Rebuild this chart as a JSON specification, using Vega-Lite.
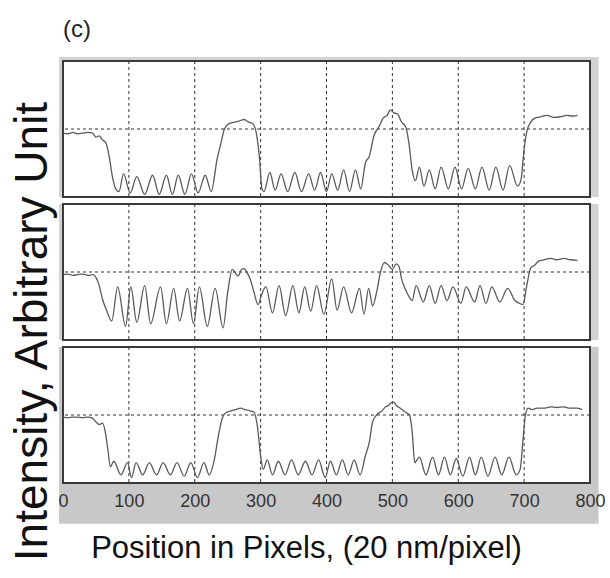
{
  "$schema": "https://vega.github.io/schema/vega-lite/v6.json",
  "background": "white",
  "padding": {"left": 8, "top": 17, "right": 5, "bottom": 5},
  "title": {"text": "(c)", "anchor": "start", "frame": "group", "fontSize": 24, "fontWeight": "normal", "font": "Liberation Sans", "color": "#222", "offset": 15},
  "config": {"view": {"stroke": null}, "font": "Liberation Sans"},
  "spacing": 7,
  "bounds": "flush",
  "datasets": {
    "p1": [
      {"x":0,"y":47},{"x":8,"y":46.5},{"x":15,"y":47.5},{"x":22,"y":46.5},{"x":30,"y":47},{"x":38,"y":47.5},{"x":45,"y":47},{"x":50,"y":44},{"x":55,"y":45},{"x":60,"y":42},{"x":65,"y":40},{"x":70,"y":30},{"x":75,"y":15},{"x":80,"y":6},{"x":85,"y":4},
      {"x":92,"y":17},{"x":102,"y":3},{"x":112,"y":15},{"x":124,"y":2},{"x":136,"y":16},{"x":146,"y":2},{"x":157,"y":16},{"x":166,"y":2},{"x":175,"y":16},{"x":185,"y":2},{"x":195,"y":17},{"x":205,"y":3},{"x":216,"y":16},{"x":225,"y":4},{"x":234,"y":28},
      {"x":240,"y":40},{"x":245,"y":50},{"x":252,"y":54},{"x":260,"y":55},{"x":268,"y":56},{"x":275,"y":57},{"x":282,"y":55},{"x":288,"y":54},{"x":293,"y":48},{"x":298,"y":30},{"x":302,"y":6},
      {"x":305,"y":4},{"x":314,"y":18},{"x":322,"y":5},{"x":331,"y":17},{"x":341,"y":4},{"x":352,"y":18},{"x":362,"y":4},{"x":373,"y":17},{"x":382,"y":5},{"x":391,"y":18},{"x":400,"y":4},{"x":408,"y":17},{"x":417,"y":5},{"x":426,"y":20},{"x":435,"y":4},{"x":444,"y":20},{"x":452,"y":6},{"x":459,"y":25},{"x":465,"y":30},
      {"x":472,"y":45},{"x":480,"y":52},{"x":486,"y":58},{"x":492,"y":60},{"x":497,"y":64},{"x":502,"y":62},{"x":508,"y":61},{"x":514,"y":55},{"x":520,"y":52},{"x":525,"y":40},{"x":530,"y":20},{"x":535,"y":12},
      {"x":541,"y":22},{"x":548,"y":8},{"x":556,"y":20},{"x":565,"y":6},{"x":574,"y":22},{"x":585,"y":6},{"x":595,"y":22},{"x":605,"y":6},{"x":615,"y":21},{"x":626,"y":6},{"x":636,"y":22},{"x":647,"y":5},{"x":657,"y":22},{"x":668,"y":5},{"x":678,"y":23},{"x":690,"y":8},{"x":695,"y":12},
      {"x":700,"y":35},{"x":704,"y":48},{"x":710,"y":55},{"x":716,"y":58},{"x":725,"y":59},{"x":735,"y":60},{"x":745,"y":58.5},{"x":755,"y":59},{"x":765,"y":60},{"x":775,"y":59.5},{"x":781,"y":60}
    ],
    "p2": [
      {"x":0,"y":48},{"x":8,"y":48.5},{"x":15,"y":47.5},{"x":22,"y":48},{"x":30,"y":48.5},{"x":38,"y":47.5},{"x":45,"y":48},{"x":50,"y":46},{"x":55,"y":40},{"x":60,"y":30},{"x":66,"y":22},{"x":74,"y":14},
      {"x":83,"y":39},{"x":95,"y":10},{"x":103,"y":39},{"x":112,"y":13},{"x":124,"y":40},{"x":133,"y":12},{"x":148,"y":39},{"x":157,"y":12},{"x":168,"y":38},{"x":177,"y":14},{"x":189,"y":38},{"x":198,"y":12},{"x":207,"y":39},{"x":219,"y":10},{"x":231,"y":38},{"x":243,"y":9},
      {"x":250,"y":35},{"x":257,"y":52},{"x":262,"y":49},{"x":266,"y":47},{"x":271,"y":52},{"x":275,"y":52.5},{"x":280,"y":49},{"x":284,"y":45},{"x":290,"y":35},{"x":296,"y":26},
      {"x":302,"y":34},{"x":308,"y":39},{"x":318,"y":20},{"x":328,"y":40},{"x":338,"y":18},{"x":349,"y":40},{"x":358,"y":20},{"x":367,"y":39},{"x":376,"y":21},{"x":385,"y":40},{"x":396,"y":19},{"x":408,"y":45},{"x":416,"y":22},{"x":426,"y":39},{"x":438,"y":20},{"x":450,"y":38},{"x":457,"y":19},{"x":464,"y":38},{"x":470,"y":25},
      {"x":476,"y":35},{"x":482,"y":50},{"x":488,"y":57},{"x":494,"y":55},{"x":500,"y":52},{"x":506,"y":56},{"x":510,"y":54},{"x":514,"y":45},{"x":519,"y":38},{"x":524,"y":33},
      {"x":530,"y":29},{"x":536,"y":40},{"x":547,"y":28},{"x":556,"y":40},{"x":565,"y":27},{"x":574,"y":40},{"x":583,"y":29},{"x":592,"y":39},{"x":604,"y":27},{"x":612,"y":39},{"x":625,"y":28},{"x":633,"y":40},{"x":642,"y":27},{"x":651,"y":39},{"x":663,"y":28},{"x":675,"y":38},{"x":686,"y":29},{"x":693,"y":27},{"x":698,"y":26},
      {"x":704,"y":40},{"x":710,"y":53},{"x":716,"y":55},{"x":722,"y":58},{"x":730,"y":59},{"x":740,"y":60},{"x":750,"y":59},{"x":760,"y":60},{"x":770,"y":59},{"x":781,"y":58.5}
    ],
    "p3": [
      {"x":0,"y":48.5},{"x":8,"y":48},{"x":15,"y":48.5},{"x":22,"y":48.5},{"x":30,"y":48},{"x":38,"y":48.5},{"x":45,"y":47.5},{"x":50,"y":45},{"x":55,"y":43},{"x":60,"y":44},{"x":64,"y":38},{"x":68,"y":25},{"x":72,"y":12},
      {"x":77,"y":16},{"x":88,"y":6},{"x":98,"y":15},{"x":104,"y":4},{"x":111,"y":15},{"x":121,"y":6},{"x":131,"y":15},{"x":142,"y":6},{"x":152,"y":15},{"x":163,"y":6},{"x":173,"y":15},{"x":184,"y":5},{"x":194,"y":15},{"x":204,"y":4},{"x":214,"y":15},{"x":222,"y":6},{"x":230,"y":18},
      {"x":236,"y":35},{"x":242,"y":48},{"x":248,"y":52},{"x":255,"y":53},{"x":262,"y":54},{"x":270,"y":55},{"x":276,"y":54},{"x":284,"y":53},{"x":290,"y":52},{"x":295,"y":42},{"x":300,"y":20},{"x":304,"y":10},
      {"x":310,"y":17},{"x":318,"y":6},{"x":327,"y":16},{"x":337,"y":6},{"x":347,"y":17},{"x":357,"y":6},{"x":368,"y":16},{"x":378,"y":6},{"x":388,"y":17},{"x":398,"y":4},{"x":406,"y":16},{"x":415,"y":6},{"x":424,"y":17},{"x":433,"y":6},{"x":442,"y":17},{"x":451,"y":6},{"x":459,"y":20},{"x":465,"y":30},
      {"x":470,"y":45},{"x":476,"y":50},{"x":484,"y":53},{"x":490,"y":56},{"x":494,"y":57},{"x":498,"y":59},{"x":502,"y":59.5},{"x":506,"y":57},{"x":512,"y":55},{"x":520,"y":52},{"x":526,"y":50},{"x":530,"y":38},{"x":534,"y":15},
      {"x":541,"y":19},{"x":551,"y":6},{"x":561,"y":19},{"x":570,"y":6},{"x":579,"y":19},{"x":588,"y":6},{"x":597,"y":18},{"x":607,"y":5},{"x":617,"y":19},{"x":626,"y":6},{"x":635,"y":19},{"x":645,"y":5},{"x":656,"y":19},{"x":666,"y":6},{"x":677,"y":19},{"x":688,"y":6},{"x":694,"y":10},
      {"x":698,"y":30},{"x":702,"y":50},{"x":706,"y":55},{"x":712,"y":54},{"x":720,"y":55},{"x":730,"y":55},{"x":740,"y":56},{"x":750,"y":55.5},{"x":760,"y":56},{"x":770,"y":55},{"x":780,"y":55},{"x":788,"y":54}
    ],
    "vgrid": [{"g":100},{"g":200},{"g":300},{"g":400},{"g":500},{"g":600},{"g":700}],
    "hgrid": [{"h":50}]
  },
  "vconcat": [
    {
      "width": 527, "height": 136,
      "layer": [
        {"data": {"values": [{"a":-6,"b":813,"c":0,"d":103}]}, "mark": {"type":"rect","color":"#d2d2d2","clip":false},
         "encoding": {"x":{"field":"a","type":"quantitative","scale":{"domain":[0,800],"nice":false,"zero":false},"axis":null},"x2":{"field":"b"},"y":{"field":"c","type":"quantitative","scale":{"domain":[0,100],"nice":false},"axis":null},"y2":{"field":"d"}}},
        {"data": {"values": [{"a":0,"b":800,"c":0,"d":100}]}, "mark": {"type":"rect","fill":"white","stroke":"#3a3a3a","strokeWidth":2},
         "encoding": {"x":{"field":"a","type":"quantitative","axis":null},"x2":{"field":"b"},"y":{"field":"c","type":"quantitative","axis":null},"y2":{"field":"d"}}},
        {"data": {"name":"vgrid"}, "mark": {"type":"rule","color":"#333","strokeDash":[3,3],"strokeWidth":1},
         "encoding": {"x":{"field":"g","type":"quantitative","axis":null}}},
        {"data": {"name":"hgrid"}, "mark": {"type":"rule","color":"#333","strokeDash":[3,3],"strokeWidth":1},
         "encoding": {"y":{"field":"h","type":"quantitative","axis":null}}},
        {"data": {"name":"p1"}, "mark": {"type":"line","interpolate":"monotone","color":"#5a5a5a","strokeWidth":1.3},
         "encoding": {"x":{"field":"x","type":"quantitative","axis":null},"y":{"field":"y","type":"quantitative","axis":null}}}
      ]
    },
    {
      "width": 527, "height": 136,
      "layer": [
        {"data": {"values": [{"a":-6,"b":813,"c":0,"d":100}]}, "mark": {"type":"rect","color":"#d2d2d2","clip":false},
         "encoding": {"x":{"field":"a","type":"quantitative","scale":{"domain":[0,800],"nice":false,"zero":false},"axis":null},"x2":{"field":"b"},"y":{"field":"c","type":"quantitative","scale":{"domain":[0,100],"nice":false},"axis":{"title":"Intensity, Arbitrary Unit","labels":false,"ticks":false,"domain":false,"grid":false,"titleFontSize":46,"titleFontWeight":"normal","titleFont":"Liberation Sans","titleColor":"#111","titleX":-17,"titleY":127,"titleBaseline":"alphabetic","titleAngle":-90}},"y2":{"field":"d"}}},
        {"data": {"values": [{"a":0,"b":800,"c":0,"d":100}]}, "mark": {"type":"rect","fill":"white","stroke":"#3a3a3a","strokeWidth":2},
         "encoding": {"x":{"field":"a","type":"quantitative","axis":null},"x2":{"field":"b"},"y":{"field":"c","type":"quantitative","axis":{"title":"Intensity, Arbitrary Unit","labels":false,"ticks":false,"domain":false,"grid":false,"titleFontSize":46,"titleFontWeight":"normal","titleFont":"Liberation Sans","titleColor":"#111","titleX":-17,"titleY":127,"titleBaseline":"alphabetic","titleAngle":-90}},"y2":{"field":"d"}}},
        {"data": {"name":"vgrid"}, "mark": {"type":"rule","color":"#333","strokeDash":[3,3],"strokeWidth":1},
         "encoding": {"x":{"field":"g","type":"quantitative","axis":null}}},
        {"data": {"name":"hgrid"}, "mark": {"type":"rule","color":"#333","strokeDash":[3,3],"strokeWidth":1},
         "encoding": {"y":{"field":"h","type":"quantitative","axis":{"title":"Intensity, Arbitrary Unit","labels":false,"ticks":false,"domain":false,"grid":false,"titleFontSize":46,"titleFontWeight":"normal","titleFont":"Liberation Sans","titleColor":"#111","titleX":-17,"titleY":127,"titleBaseline":"alphabetic","titleAngle":-90}}}},
        {"data": {"name":"p2"}, "mark": {"type":"line","interpolate":"monotone","color":"#5a5a5a","strokeWidth":1.3},
         "encoding": {"x":{"field":"x","type":"quantitative","axis":null},"y":{"field":"y","type":"quantitative","axis":{"title":"Intensity, Arbitrary Unit","labels":false,"ticks":false,"domain":false,"grid":false,"titleFontSize":46,"titleFontWeight":"normal","titleFont":"Liberation Sans","titleColor":"#111","titleX":-17,"titleY":127,"titleBaseline":"alphabetic","titleAngle":-90}}}}
      ]
    },
    {
      "width": 527, "height": 136,
      "layer": [
        {"data": {"values": [{"a":-6,"b":813,"c":-30,"d":100}]}, "mark": {"type":"rect","color":"#c8c8c8","clip":false},
         "encoding": {"x":{"field":"a","type":"quantitative","scale":{"domain":[0,800],"nice":false,"zero":false},"axis":{"title":"Position in Pixels, (20 nm/pixel)","values":[0,100,200,300,400,500,600,700,800],"format":"d","labelFlush":false,"labelOverlap":false,"labelFontSize":18,"labelColor":"#333","labelFont":"Liberation Sans","labelPadding":9,"ticks":false,"domain":false,"grid":false,"zindex":1,"titleFontSize":31,"titleFontWeight":"normal","titleFont":"Liberation Sans","titleColor":"#111","titleX":243,"titleY":74,"titleBaseline":"alphabetic"}},"x2":{"field":"b"},"y":{"field":"c","type":"quantitative","scale":{"domain":[0,100],"nice":false},"axis":null},"y2":{"field":"d"}}},
        {"data": {"values": [{"a":0,"b":800,"c":0,"d":100}]}, "mark": {"type":"rect","fill":"white","stroke":"#3a3a3a","strokeWidth":2},
         "encoding": {"x":{"field":"a","type":"quantitative","axis":{"title":"Position in Pixels, (20 nm/pixel)","values":[0,100,200,300,400,500,600,700,800],"format":"d","labelFlush":false,"labelOverlap":false,"labelFontSize":18,"labelColor":"#333","labelFont":"Liberation Sans","labelPadding":9,"ticks":false,"domain":false,"grid":false,"zindex":1,"titleFontSize":31,"titleFontWeight":"normal","titleFont":"Liberation Sans","titleColor":"#111","titleX":243,"titleY":74,"titleBaseline":"alphabetic"}},"x2":{"field":"b"},"y":{"field":"c","type":"quantitative","axis":null},"y2":{"field":"d"}}},
        {"data": {"name":"vgrid"}, "mark": {"type":"rule","color":"#333","strokeDash":[3,3],"strokeWidth":1},
         "encoding": {"x":{"field":"g","type":"quantitative","axis":{"title":"Position in Pixels, (20 nm/pixel)","values":[0,100,200,300,400,500,600,700,800],"format":"d","labelFlush":false,"labelOverlap":false,"labelFontSize":18,"labelColor":"#333","labelFont":"Liberation Sans","labelPadding":9,"ticks":false,"domain":false,"grid":false,"zindex":1,"titleFontSize":31,"titleFontWeight":"normal","titleFont":"Liberation Sans","titleColor":"#111","titleX":243,"titleY":74,"titleBaseline":"alphabetic"}}}},
        {"data": {"name":"hgrid"}, "mark": {"type":"rule","color":"#333","strokeDash":[3,3],"strokeWidth":1},
         "encoding": {"y":{"field":"h","type":"quantitative","axis":null}}},
        {"data": {"name":"p3"}, "mark": {"type":"line","interpolate":"monotone","color":"#5a5a5a","strokeWidth":1.3},
         "encoding": {"x":{"field":"x","type":"quantitative","axis":{"title":"Position in Pixels, (20 nm/pixel)","values":[0,100,200,300,400,500,600,700,800],"format":"d","labelFlush":false,"labelOverlap":false,"labelFontSize":18,"labelColor":"#333","labelFont":"Liberation Sans","labelPadding":9,"ticks":false,"domain":false,"grid":false,"zindex":1,"titleFontSize":31,"titleFontWeight":"normal","titleFont":"Liberation Sans","titleColor":"#111","titleX":243,"titleY":74,"titleBaseline":"alphabetic"}},"y":{"field":"y","type":"quantitative","axis":null}}}
      ]
    }
  ]
}
